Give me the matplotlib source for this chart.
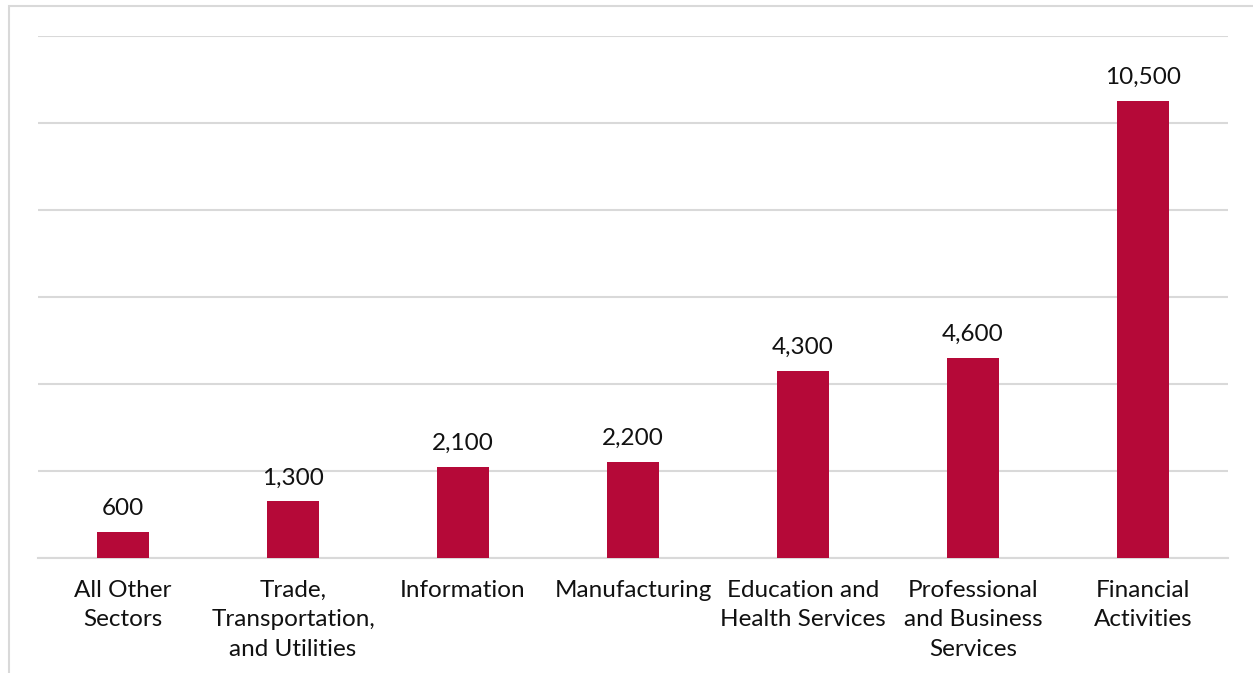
import numpy as np
import matplotlib
matplotlib.use("Agg")
from matplotlib import pyplot as plt
from matplotlib.patches import Rectangle

# data
categories = ["All Other\nSectors", "Trade,\nTransportation,\nand Utilities", "Information",
              "Manufacturing", "Education and\nHealth Services", "Professional\nand Business\nServices",
              "Financial\nActivities"]
values = [600, 1300, 2100, 2200, 4300, 4600, 10500]
yticks = [0, 2000, 4000, 6000, 8000, 10000, 12000]

barColor = "#B50938"
gridColor = "#D9D9D9"

plt.rcParams['font.family'] = ['Lato', 'DejaVu Sans']

fig = plt.figure(figsize=(12.53, 6.73), dpi=100)
W, H = 1253, 673
# plot area in pixels: x 38..1228, y 36..558 (top to bottom)
ax = fig.add_axes([38 / W, 1 - 558 / H, (1228 - 38) / W, (558 - 36) / H])

x = np.arange(len(categories))
ax.bar(x, values, width=0.31, color=barColor, zorder=3)
ax.set_xlim(-0.5, len(categories) - 0.5)
ax.set_ylim(0, 12000)
ax.set_yticks(yticks)
ax.yaxis.grid(True, color=gridColor, linewidth=1.5, zorder=0)
ax.tick_params(axis='y', left=False, labelleft=False)
ax.tick_params(axis='x', bottom=False, pad=12.5)
ax.set_xticks(x)
ax.set_xticklabels(categories, fontsize=17.5, color="#111111", linespacing=1.48)
for s in ["top", "right", "left"]:
    ax.spines[s].set_visible(False)
ax.spines["bottom"].set_color(gridColor)
ax.spines["bottom"].set_linewidth(1.5)

# value labels
for xi, v in zip(x, values):
    ax.annotate(f"{v:,}", (xi, v), xytext=(0, 13), textcoords="offset pixels",
                ha="center", va="bottom", fontsize=17.5, color="#111111")

# outer frame (left and top edges visible)
fig.patches.append(Rectangle((9 / W, -0.1), 1.2, 1 - 6 / H + 0.1, transform=fig.transFigure,
                             fill=False, edgecolor="#D9D9D9", linewidth=1.5))

fig.savefig("out.png", dpi=100)
